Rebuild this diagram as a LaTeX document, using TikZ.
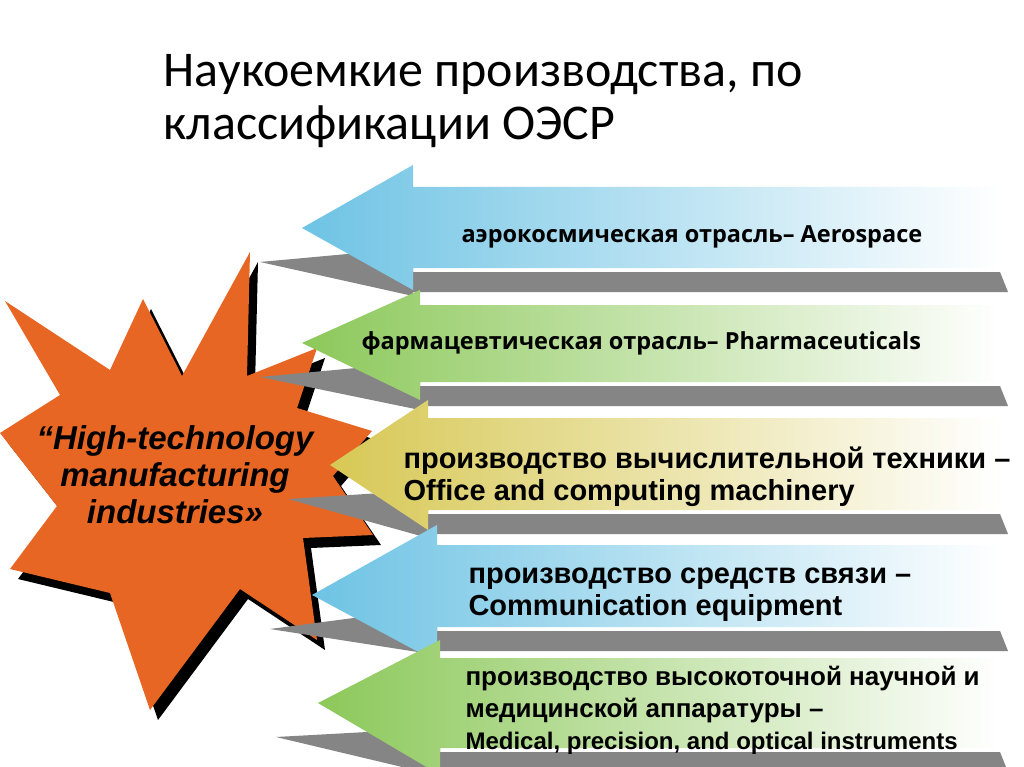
\documentclass[tikz,border=0pt]{standalone}
\usepackage{fontspec}
\setmainfont{Liberation Sans}
\newfontfamily\titlefont{Carlito}
\newfontfamily\opensans{Open Sans}
\begin{document}
\begin{tikzpicture}[x=1pt,y=-1pt,
  shadowg/.style={fill=black!48},
  lbl/.style={anchor=west,align=left,font=\fontsize{29}{32}\selectfont\bfseries},
]
\clip (0,0) rectangle (1024,767);
\fill[white] (0,0) rectangle (1024,767);
\definecolor{cblue}{RGB}{110,195,228}
\definecolor{cgreen}{RGB}{140,200,90}
\definecolor{cyel}{RGB}{215,200,85}
\definecolor{corange}{RGB}{232,102,36}
\newcommand{\myarrow}[8]{%
  \fill[shadowg] (#1-42,#2+34) -- (#3,#7-20) -- (#3,#7+4) -- (1000,#7+4) -- (1008,#7+24) -- (#3,#7+24) -- (#3,#7+28) -- cycle;
  \shade[left color=#8,right color=white,shading angle=90] (#1,#2) -- (#3,#4) -- (#3,#6) -- (1000,#6) -- (1000,#7) -- (#3,#7) -- (#3,#5) -- cycle;
}
\def\starpath{(0,433) -- (60,395) -- (5,301) -- (110,370) -- (143,299) -- (182,376) -- (250,252) -- (247,376) -- (317,348) -- (297,408) -- (372,431) -- (333,476) -- (373,535) -- (303,538) -- (317,640) -- (240,589) -- (150,710) -- (110,593) -- (10,569) -- (57,506) -- cycle}
\fill[black,shift={(8,10)}] \starpath;
\fill[corange] \starpath;
\myarrow{302}{228}{413}{165}{290}{187}{268}{cblue}
\myarrow{302}{343}{420}{290}{400}{305}{382}{cgreen}
\myarrow{330}{465}{428}{400}{530}{418}{510}{cyel}
\myarrow{312}{595}{437}{525}{662}{545}{627}{cblue}
\myarrow{318}{703}{440}{640}{775}{658}{748}{cgreen}
\node[anchor=west,font=\titlefont\fontsize{50}{53}\selectfont,align=left] (title) at (160,101) {Наукоемкие производства, по\\классификации ОЭСР};
\node (star) [align=center,font=\fontsize{33}{37}\selectfont\bfseries\itshape] at (175,475) {“High-technology\\manufacturing\\industries»};
\node[anchor=west,font=\opensans\fontsize{23.5}{28}\selectfont\bfseries] (t1) at (458,237) {аэрокосмическая отрасль– Aerospace};
\node[anchor=west,font=\opensans\fontsize{23.5}{28}\selectfont\bfseries] (t2) at (358,343) {фармацевтическая отрасль– Pharmaceuticals};
\node[lbl] (t3) at (400,477) {производство вычислительной техники –\\Office and computing machinery};
\node[lbl] (t4) at (465,595) {производство средств связи –\\Communication equipment};
\node[lbl,font=\fontsize{26}{32}\selectfont\bfseries] (t5) at (462,710) {производство высокоточной научной и\\медицинской аппаратуры –\\{\fontsize{24}{30}\selectfont Medical, precision, and optical instruments}};
\end{tikzpicture}
\end{document}
